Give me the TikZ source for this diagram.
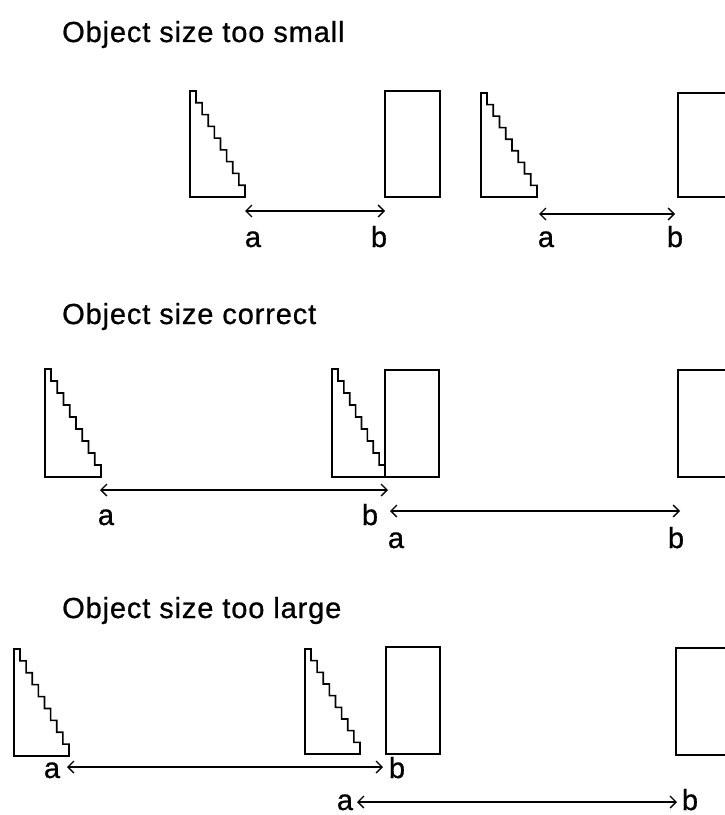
\documentclass[tikz,border=0pt]{standalone}
\usepackage{fontspec}
\setmainfont{Liberation Sans}
\usetikzlibrary{arrows.meta}
\newcommand\stairshape[4]{%
  \pgfmathsetmacro\sdx{(#3-#1-6)/8}%
  \pgfmathsetmacro\sdy{(#4-#2)/9}%
  \draw[objline] (#1,#2) -- ++(6,0)
    \foreach \k in {1,...,8}{ -- ++(0,\sdy) -- ++(\sdx,0)}
    -- (#3,#4) -- (#1,#4) -- cycle;}
\begin{document}
\begin{tikzpicture}[x=1bp,y=-1bp,
  objline/.style={line width=1.6bp,line join=miter},
  dist/.style={line width=1.3bp,{Straight Barb[length=6bp,width=12bp]}-{Straight Barb[length=6bp,width=12bp]}},
  title/.style={anchor=base west,inner sep=0pt,font=\fontsize{29bp}{34bp}\selectfont\addfontfeature{FakeBold=0.8,LetterSpace=3}},
  lbl/.style={anchor=base,inner sep=0pt,font=\fontsize{29bp}{34bp}\selectfont\addfontfeature{FakeBold=0.8}}]
\useasboundingbox (0,0) rectangle (725,815);
% titles
\node[title] (t1) at (62,42) {Object size too small};
\node[title] (t2) at (62,324) {Object size correct};
\node[title] (t3) at (62,618) {Object size too large};
% section 1
\stairshape{190}{91}{245}{197}
\draw[objline] (385,91) rectangle (440,197);
\stairshape{481}{93}{537}{197}
\draw[objline] (725,93) -- (678,93) -- (678,197) -- (725,197);
\coordinate (a1) at (245,211); \coordinate (b1) at (385,211);
\coordinate (a2) at (539,214); \coordinate (b2) at (675,214);
\draw[dist] (a1) -- (b1);
\draw[dist] (a2) -- (b2);
\node[lbl] (la1) at (253,247) {a};
\node[lbl] (lb1) at (379,247) {b};
\node[lbl] (la2) at (546,247) {a};
\node[lbl] (lb2) at (675,247) {b};
% section 2
\stairshape{45}{369}{101}{477}
\stairshape{332}{369}{385}{477}
\draw[objline] (385,370) rectangle (439,477);
\draw[objline] (725,370) -- (678,370) -- (678,477) -- (725,477);
\coordinate (a3) at (100,490); \coordinate (b3) at (388,490);
\coordinate (a4) at (390,511); \coordinate (b4) at (680,511);
\draw[dist] (a3) -- (b3);
\draw[dist] (a4) -- (b4);
\node[lbl] (la3) at (106,525) {a};
\node[lbl] (lb3) at (370,525) {b};
\node[lbl] (la4) at (396,548) {a};
\node[lbl] (lb4) at (676,548) {b};
% section 3
\stairshape{14}{649}{69}{756}
\stairshape{305}{649}{360}{754}
\draw[objline] (386,647) rectangle (440,754);
\draw[objline] (725,648) -- (676,648) -- (676,755) -- (725,755);
\coordinate (a5) at (67,767); \coordinate (b5) at (383,767);
\coordinate (a6) at (357,802); \coordinate (b6) at (677,802);
\draw[dist] (a5) -- (b5);
\draw[dist] (a6) -- (b6);
\node[lbl] (la5) at (52,778) {a};
\node[lbl] (lb5) at (397,778) {b};
\node[lbl] (la6) at (345,810) {a};
\node[lbl] (lb6) at (690,810) {b};
\end{tikzpicture}
\end{document}
